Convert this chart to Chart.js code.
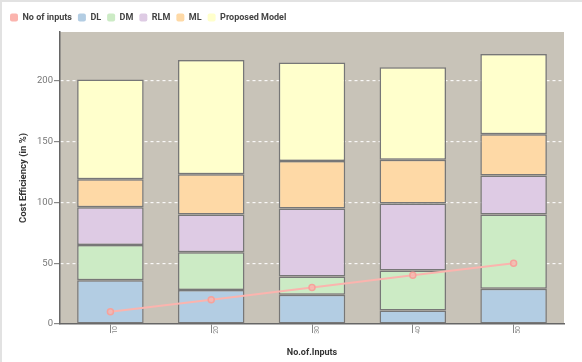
<!DOCTYPE html>
<html>
<head>
<meta charset="utf-8">
<script src="https://cdn.jsdelivr.net/npm/chart.js@4"></script>
<style>
    html, body { margin: 0; padding: 0; background: #fff; }
    #wrap { width: 582px; height: 362px; position: relative; }
</style>
</head>
<body>
<div id="wrap"><canvas id="chart"></canvas></div>
<script>
// Chart data
const categories = ['10', '20', '30', '40', '50'];
const noOfInputs = [10, 20, 30, 40, 50];
const dl = [36, 28, 24, 11, 29];
const dm = [29, 31, 15, 33, 61];
const rlm = [31, 31, 56, 55, 32];
const ml = [23, 33, 39, 36, 34];
const proposed = [82, 94, 81, 76, 66];
const yTicks = [0, 50, 100, 150, 200];

Chart.defaults.font.family = 'Roboto, "Liberation Sans", sans-serif';

// Plot background + page frame
const bgPlugin = {
    id: 'bg',
    beforeDraw(chart) {
        const ctx = chart.ctx;
        const a = chart.chartArea;
        ctx.save();
        ctx.fillStyle = '#c8c3b8';
        ctx.fillRect(a.left, a.top, a.right - a.left, a.bottom - a.top);
        ctx.fillStyle = '#e2e2e2';
        ctx.fillRect(0, 0, chart.width, 2);
        ctx.fillRect(0, 0, 2, chart.height);
        ctx.restore();
    }
};

function barSet(label, data, color) {
    return {
        type: 'bar',
        label: label,
        data: data,
        backgroundColor: color,
        borderColor: '#777',
        borderWidth: 1.5,
        borderSkipped: false,
        stack: 'bars',
        order: 1,
        barPercentage: 0.66,
        categoryPercentage: 1
    };
}

new Chart(document.getElementById('chart'), {
    data: {
        labels: categories,
        datasets: [
            {
                type: 'line',
                label: 'No of inputs',
                data: noOfInputs,
                borderColor: '#fbb4ae',
                backgroundColor: '#fbb4ae',
                pointBackgroundColor: 'rgba(251,180,174,0.7)',
                pointBorderColor: '#f6a29b',
                pointBorderWidth: 1.5,
                borderWidth: 2,
                pointRadius: 3,
                stack: 'line',
                order: 0
            },
            barSet('DL', dl, '#b3cde3'),
            barSet('DM', dm, '#ccebc5'),
            barSet('RLM', rlm, '#decbe4'),
            barSet('ML', ml, '#fed9a6'),
            barSet('Proposed Model', proposed, '#ffffcc')
        ]
    },
    options: {
        responsive: true,
        maintainAspectRatio: false,
        animation: false,
        layout: { padding: { left: 4, right: 18, top: 7, bottom: 4 } },
        plugins: {
            tooltip: { enabled: false },
            legend: {
                position: 'top',
                align: 'start',
                labels: {
                    boxWidth: 8,
                    boxHeight: 8,
                    padding: 6,
                    color: '#444',
                    font: { size: 9, weight: 'bold' },
                    useBorderRadius: true,
                    borderRadius: 2,
                    generateLabels(chart) {
                        const items = Chart.defaults.plugins.legend.labels.generateLabels(chart);
                        items.forEach(it => { it.lineWidth = 0; it.strokeStyle = 'transparent'; });
                        return items;
                    }
                }
            }
        },
        scales: {
            x: {
                stacked: true,
                offset: true,
                grid: { display: true, drawOnChartArea: false, tickLength: 9, tickColor: '#888', offset: false },
                border: { color: '#666', width: 1.5 },
                ticks: { color: '#888', font: { size: 7 }, maxRotation: 90, minRotation: 90, padding: -7, labelOffset: 5 },
                title: { display: true, text: 'No.of.Inputs', color: '#333', font: { size: 9, weight: 'bold' }, padding: { top: 3, bottom: 0 } },
                afterFit(s) { s.height = 34; }
            },
            y: {
                stacked: true,
                min: 0,
                max: 240,
                grid: { color: 'rgba(255,255,255,0.9)', lineWidth: 1.2, tickLength: 6, tickColor: '#888', tickBorderDash: [] },
                border: { color: '#666', width: 1.5, dash: [3, 3] },
                ticks: { stepSize: 50, color: '#777', font: { size: 9.5 }, padding: 1 },
                afterBuildTicks(s) { s.ticks = yTicks.map(v => ({ value: v })); },
                title: { display: true, text: 'Cost Efficiency (in %)', color: '#333', font: { size: 9.5, weight: 'bold' }, padding: { top: 14, bottom: 0 } },
                afterFit(s) { s.width = 56; }
            }
        }
    },
    plugins: [bgPlugin]
});
</script>
</body>
</html>
